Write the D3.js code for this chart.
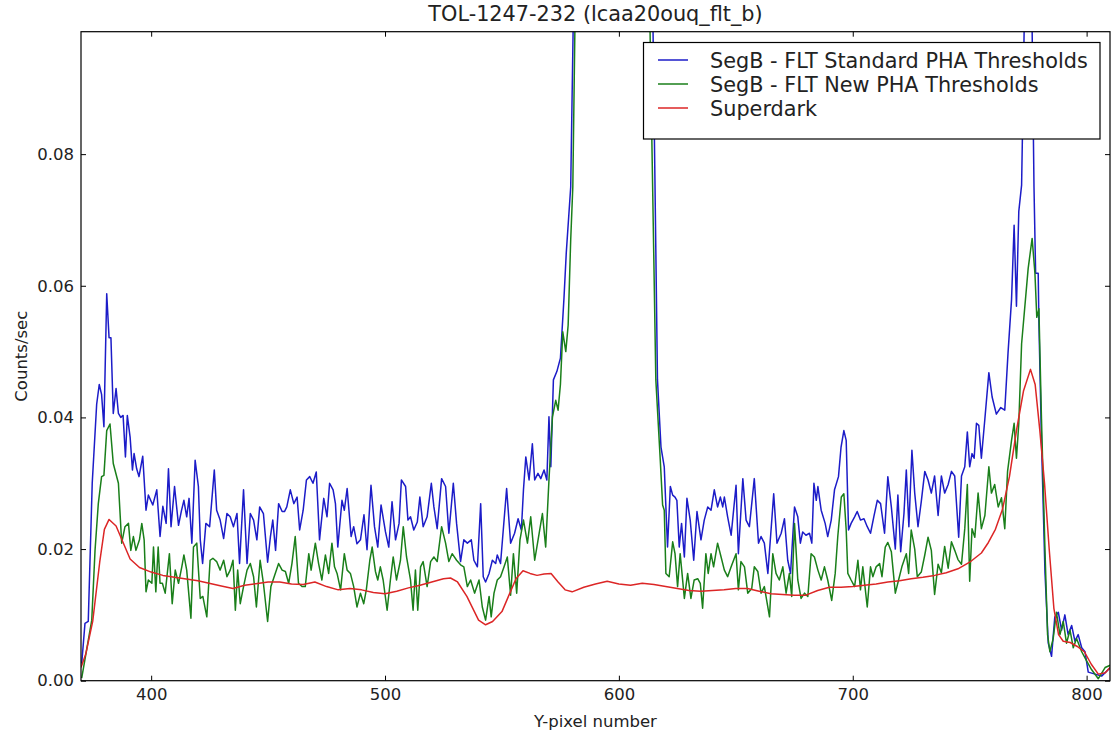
<!DOCTYPE html>
<html><head><meta charset="utf-8">
<script src="https://cdn.jsdelivr.net/npm/d3@7"></script>
<style>html,body{margin:0;padding:0;background:#fff;} svg{display:block;}</style>
</head><body>
<svg id="chart" width="1111" height="736"></svg>
<script>
const title = "TOL-1247-232 (lcaa20ouq_flt_b)";
const xLabel = "Y-pixel number";
const yLabel = "Counts/sec";
const seriesNames = ["SegB - FLT Standard PHA Thresholds", "SegB - FLT New PHA Thresholds", "Superdark"];
const xTicks = [400, 500, 600, 700, 800];
const yTicks = [0.00, 0.02, 0.04, 0.06, 0.08];
const xDomain = [370, 810];
const yDomain = [0, 0.0986];

const blueX = [370.3,371.7,373.1,374.8,376.7,377.8,378.8,379.8,381,382,382.8,383.8,385,386,387,388,389,389.8,391,392,392.7,393.8,394.8,396.4,397.8,398.8,400.7,402.4,403.8,405,406.4,407.4,408.5,410,411.7,413,414,415.2,416.2,417.4,418.8,420.2,421,422,423.4,425,426,427,428,429.5,431,432.4,433.8,435.2,436.7,437.8,439.5,441,442.4,443.8,445.2,446.4,448,449.8,451,452,453.2,454.5,456,457,458,459.5,461,462.4,463.5,465,466.4,467.8,469.2,470.6,472,473.8,475.2,476.3,477.8,478.8,479.8,481.6,482.6,483.8,485.5,486.6,488,489.5,491,492.3,494,495.5,496.9,498.3,500.2,501.6,503,504.5,506,507,508.8,509.8,510.9,512.3,513.8,514.9,516.3,518,519.8,520.9,522.3,524.2,525.9,527.3,529.2,530.6,532.3,533.7,535.2,536.9,538,539.5,540.9,542,543,544.5,545.9,547.3,548,549.4,552,553.7,555.4,556.9,558.3,559.2,560.2,561.6,563,564,565.4,566.6,568,569.2,570.1,570.9,572,573.5,575,576.5,577.5,579.4,580.7,583,590,600,608,612,614.2,616.5,618,619.4,620.8,622,623,624,624.8,625.8,626.8,628,629.1,630.5,632,633.4,635.1,636.5,638,639.4,640.8,642.2,643.4,644.4,645.1,646.5,648,650.1,651.1,653,654.4,655.8,657.9,659.7,660.8,662.2,663.7,666.2,667.6,669.4,670.8,672.2,673.4,675.1,676.5,677.6,678.6,680,681.5,682.5,683.4,684.4,685.1,686.5,688.2,689.3,690.8,692.2,693.9,695,696.2,697.2,698.2,699.3,700.8,701.9,703.3,704.8,706.2,707.6,709,710.5,711.9,713.6,715,716.5,718.2,719.3,720.5,721.9,722.9,724,725.3,726.5,727.9,729.3,730.8,732.2,733.6,735,736.5,737.9,739.3,740.8,742.2,743.6,745.3,746.5,747.9,749,750,751,751.9,752.9,753.9,755,756.5,758.2,759.6,761.4,763.3,765,766.4,767.9,769,770,771,772.2,772.9,774,776,777.5,778.2,779.3,779.6,780.7,782.2,783.6,785,786.4,787.9,789.3,790.7,792.1,793.6,795,796.4,797.9,799.3,800.7,803.6,806.4,809.3,810.5];
const blueY = [0.0026,0.0087,0.009,0.030,0.042,0.045,0.0435,0.0386,0.0588,0.0521,0.0521,0.0406,0.0444,0.0406,0.040,0.0403,0.034,0.0403,0.037,0.032,0.0345,0.0322,0.031,0.0341,0.0259,0.0282,0.0267,0.029,0.0219,0.0265,0.0239,0.0322,0.0234,0.0295,0.0236,0.0259,0.0274,0.0249,0.0277,0.0209,0.0335,0.0295,0.0214,0.0178,0.0239,0.0234,0.0277,0.032,0.0259,0.0244,0.0216,0.0254,0.0249,0.0234,0.0254,0.0178,0.029,0.0178,0.0254,0.0244,0.0214,0.0264,0.0254,0.018,0.0219,0.0244,0.0198,0.0269,0.0257,0.0257,0.0264,0.029,0.0269,0.0279,0.0229,0.0259,0.0305,0.031,0.03,0.0317,0.0214,0.0277,0.0249,0.03,0.029,0.0269,0.0203,0.0274,0.0259,0.0292,0.0219,0.0234,0.0208,0.0214,0.0252,0.0199,0.0297,0.0234,0.0203,0.0267,0.0226,0.0203,0.0272,0.0214,0.0239,0.0305,0.0295,0.0244,0.0249,0.0229,0.0241,0.0279,0.0234,0.0249,0.03,0.0264,0.0231,0.0307,0.0295,0.0224,0.03,0.0239,0.0181,0.0214,0.0209,0.0214,0.0183,0.0173,0.0269,0.0158,0.015,0.0163,0.0183,0.0178,0.0191,0.0178,0.0292,0.0209,0.0224,0.0246,0.0229,0.029,0.034,0.0305,0.036,0.0305,0.0315,0.0307,0.032,0.0305,0.0401,0.0325,0.0457,0.047,0.049,0.058,0.065,0.075,0.105,0.2,0.4,0.5,0.35,0.2,0.11,0.0457,0.0355,0.0325,0.0203,0.0295,0.0282,0.0279,0.0274,0.0203,0.0239,0.0188,0.0277,0.0244,0.0183,0.0257,0.0214,0.0244,0.0264,0.0259,0.029,0.0264,0.0279,0.0264,0.0279,0.0249,0.0221,0.0297,0.0193,0.0307,0.0244,0.0234,0.0307,0.0209,0.0219,0.0209,0.0163,0.0284,0.0209,0.0224,0.0246,0.0183,0.0163,0.0264,0.0249,0.0209,0.0226,0.0221,0.0224,0.0209,0.03,0.0274,0.0295,0.0259,0.0239,0.0219,0.0244,0.029,0.031,0.0355,0.038,0.0365,0.0229,0.0239,0.0249,0.0257,0.0244,0.0246,0.0234,0.0224,0.0249,0.0274,0.0269,0.0224,0.0310,0.0264,0.0200,0.0282,0.0196,0.0254,0.0320,0.0234,0.035,0.0285,0.0234,0.0272,0.0318,0.0305,0.0285,0.0311,0.0251,0.0311,0.0285,0.0298,0.0318,0.0311,0.0218,0.0311,0.0325,0.0378,0.0325,0.0345,0.0338,0.0391,0.0388,0.0338,0.0398,0.0468,0.0431,0.0405,0.0415,0.0411,0.0498,0.0579,0.0692,0.0569,0.0713,0.0753,0.09,0.115,0.12,0.075,0.0619,0.0619,0.0545,0.0365,0.0164,0.0057,0.0037,0.0097,0.0104,0.0077,0.01,0.007,0.0084,0.006,0.007,0.005,0.0044,0.0013,0.001,0.0007,0.0017,0.002];

const greenX = [370.3,372.4,374.6,376,377.4,378.8,379.8,381,382.4,383.8,386,387.4,388.8,390.3,391.3,392.4,393.5,395,396,397,397.8,398.8,400.3,401,402,403,403.8,404.8,406,407.8,409,410.3,411.7,413.1,414,415.2,417,418.1,419.5,421,422.1,423.8,425.2,426.4,428,429.5,431,432.4,433.8,435,436,437,438.1,439.5,441,442.4,443.8,445,446.6,448,449.8,451.2,452.6,454.5,456,457.4,458.8,460.2,461.6,463,464.5,465.9,467.4,468.4,470.2,471.6,473,474.5,475.9,477.3,478.4,479.5,481,482.6,483.8,485.2,486.6,488,489.5,490.9,492,493.5,494.5,495.9,496.9,498,499.2,500.9,502.3,503.5,504.9,506.6,507.8,509.2,510.9,512,513,514,515.2,516.3,518,519.5,520.9,522.3,524.2,525.9,527.3,528.7,530.6,532.3,533.7,535.2,536.6,538.3,540.2,541.6,543,544.5,545.4,546.6,548,549.4,550.9,552.3,553.7,554.9,556.3,557.7,559.2,560.9,562.3,564,565.9,567.3,568.7,570.1,571.6,573,574,575,576,577.3,578.3,579.4,580.3,581.6,585,595,605,610,612.8,615.8,617.7,618.7,619.4,620.1,621.5,623,624,625.1,626.2,628,629.4,630.8,632.2,633.7,634.8,635.8,637.2,638.2,639.4,640.5,642.2,643.7,645.1,646.5,648,650.1,651.1,652.2,653.7,655.1,656.8,657.9,659.4,660.8,662.2,664.4,665.8,667.2,668.6,670.1,671.5,672.9,673.9,675.1,676.5,677.9,679.4,680.8,682.2,683.6,685.1,686.5,687.9,689.3,691,692.5,693.6,695.1,696.2,697.2,697.9,699.3,700.8,702.2,703.3,704.3,706.2,707.6,708.6,710,711.5,712.5,713.9,715,716.5,718.2,719.6,721,722.9,723.9,725,726.5,727.6,729.3,730.8,732.2,733.6,735,736.5,737.9,739.3,740.8,742.2,743.6,745,746.5,747.9,749,750,751,752.2,753.6,755,756.5,758.2,759.3,760.7,762.2,763.6,765,766.2,767.9,769,770,771,772.2,775,776.7,777.9,778.7,779.6,780.7,782.2,783.3,784.3,785.7,787.1,788.6,790,791.4,792.9,794.3,795.7,797.9,800,802.1,805,807.9,810.5];
const greenY = [0.0004,0.0047,0.0092,0.0198,0.0269,0.031,0.0312,0.038,0.039,0.033,0.03,0.0209,0.0234,0.0239,0.0198,0.0219,0.0198,0.0214,0.0239,0.0214,0.0135,0.0153,0.0148,0.0203,0.0135,0.0203,0.0148,0.0148,0.0133,0.0193,0.0117,0.0168,0.0148,0.0173,0.0191,0.0168,0.0095,0.0203,0.0209,0.0125,0.0128,0.0097,0.0183,0.0186,0.0181,0.0168,0.0183,0.0158,0.0168,0.0183,0.0107,0.0168,0.0117,0.0143,0.0168,0.0178,0.0158,0.0112,0.0183,0.0148,0.009,0.0143,0.0158,0.0178,0.0168,0.0166,0.0148,0.0178,0.0219,0.0148,0.0143,0.0143,0.0193,0.0168,0.0209,0.0178,0.0153,0.0191,0.0163,0.0209,0.0173,0.0163,0.0138,0.0193,0.0168,0.0163,0.0143,0.0112,0.0133,0.0117,0.0138,0.0183,0.0203,0.0166,0.0153,0.0173,0.0153,0.0107,0.0153,0.0188,0.0153,0.0183,0.0234,0.0188,0.0153,0.0107,0.0168,0.0107,0.0173,0.0181,0.0143,0.0181,0.0188,0.0181,0.0234,0.0209,0.0181,0.0193,0.0183,0.0176,0.0173,0.0143,0.0153,0.0133,0.0153,0.0112,0.0092,0.0128,0.0097,0.0133,0.0153,0.0158,0.0173,0.0188,0.013,0.0193,0.0133,0.0214,0.0244,0.0209,0.0249,0.0183,0.0224,0.0254,0.0203,0.0305,0.0401,0.0426,0.0411,0.045,0.053,0.05,0.054,0.067,0.075,0.11,0.25,0.45,0.4,0.2,0.11,0.0457,0.0335,0.0267,0.0259,0.0163,0.0158,0.0211,0.0193,0.0143,0.0193,0.0125,0.0163,0.0125,0.0153,0.0155,0.0148,0.011,0.0193,0.0163,0.0193,0.0173,0.0209,0.0188,0.0168,0.0158,0.0173,0.0193,0.0138,0.0181,0.0173,0.0133,0.014,0.0173,0.0166,0.0133,0.0143,0.0097,0.0193,0.0163,0.0153,0.0173,0.0133,0.0163,0.0128,0.0239,0.0153,0.0125,0.0133,0.0128,0.0193,0.0188,0.0168,0.0153,0.0173,0.0153,0.0122,0.0163,0.0219,0.0279,0.0284,0.0229,0.0163,0.0153,0.0143,0.0183,0.0138,0.0173,0.0112,0.0173,0.0158,0.0173,0.0178,0.0158,0.0203,0.0210,0.0196,0.0133,0.0153,0.0173,0.0193,0.0163,0.0229,0.0200,0.0158,0.0165,0.0191,0.0218,0.0198,0.0131,0.0177,0.0164,0.0204,0.0171,0.0211,0.0198,0.0184,0.0177,0.0231,0.0298,0.0151,0.0231,0.0218,0.0285,0.0231,0.0251,0.0325,0.0285,0.0298,0.0264,0.0278,0.0231,0.0318,0.0365,0.0391,0.0338,0.0391,0.0512,0.0626,0.0672,0.0619,0.0552,0.0565,0.0398,0.0198,0.007,0.0044,0.0064,0.0104,0.007,0.009,0.0057,0.0077,0.005,0.0064,0.0044,0.003,0.0017,0.0003,0.002,0.0024];

const darkX = [370,372,375,378,380,382,385,388,391,395,400,405,410,420,430,435,440,450,455,460,465,470,475,480,485,490,495,500,505,510,515,520,525,528,531,535,540,543,546,550,553,556,559,562,565,568,571,574,577,580,585,590,595,600,605,610,615,620,625,630,635,640,645,650,655,660,665,670,675,680,685,690,695,700,705,710,715,720,725,730,735,740,745,750,755,758,761,764,767,770,773,776,778,780,782,784,786,788,790,793,796,799,802,805,808,810];
const darkY = [0.002,0.004,0.009,0.018,0.023,0.0245,0.0235,0.021,0.0185,0.0172,0.0165,0.016,0.0157,0.0152,0.0144,0.014,0.0145,0.015,0.015,0.0147,0.0146,0.015,0.0143,0.0138,0.014,0.0138,0.0134,0.0132,0.0136,0.0141,0.0145,0.015,0.0155,0.0156,0.015,0.0128,0.0092,0.0085,0.009,0.0105,0.013,0.0155,0.0167,0.0163,0.016,0.0162,0.0163,0.015,0.0138,0.0135,0.0142,0.0147,0.0151,0.0147,0.0145,0.0148,0.0146,0.0143,0.014,0.0137,0.0136,0.0137,0.0138,0.014,0.014,0.0136,0.0132,0.0131,0.013,0.013,0.0137,0.0142,0.0142,0.0143,0.0145,0.0147,0.015,0.0152,0.0155,0.0157,0.016,0.0164,0.017,0.018,0.0194,0.021,0.023,0.026,0.031,0.038,0.044,0.0473,0.045,0.038,0.030,0.020,0.011,0.007,0.006,0.0058,0.0052,0.0044,0.0025,0.001,0.0012,0.002];

const colors = ["#1c1cc8", "#1a7f1a", "#dc2626"];

const font = "'DejaVu Sans', sans-serif";
const svg = d3.select("#chart");
const W = 1111, H = 736;
const m = {left: 81, top: 31.7, right: 1110, bottom: 680.7};

const x = d3.scaleLinear().domain(xDomain).range([m.left, m.right]);
const y = d3.scaleLinear().domain(yDomain).range([m.bottom, m.top]);

svg.append("defs").append("clipPath").attr("id", "clip")
  .append("rect").attr("x", m.left).attr("y", m.top)
  .attr("width", m.right - m.left).attr("height", m.bottom - m.top);

const series = [
  {name: seriesNames[0], xs: blueX, ys: blueY, color: colors[0]},
  {name: seriesNames[1], xs: greenX, ys: greenY, color: colors[1]},
  {name: seriesNames[2], xs: darkX, ys: darkY, color: colors[2]}
];

const line = d3.line().x(d => x(d[0])).y(d => y(d[1]));
const plot = svg.append("g").attr("clip-path", "url(#clip)");
series.forEach(s => {
  const pts = s.xs.map((v, i) => [v, s.ys[i]]);
  plot.append("path").datum(pts).attr("d", line)
    .attr("fill", "none").attr("stroke", s.color).attr("stroke-width", 1.5)
    .attr("stroke-linejoin", "round");
});

// axes
const fmtY = d3.format(".2f");
const axB = svg.append("g").attr("transform", `translate(0,${m.bottom})`)
  .call(d3.axisBottom(x).tickValues(xTicks).tickSize(-5).tickPadding(8).tickFormat(d3.format("d")));
const axT = svg.append("g").attr("transform", `translate(0,${m.top})`)
  .call(d3.axisTop(x).tickValues(xTicks).tickSize(-5).tickFormat(""));
const axL = svg.append("g").attr("transform", `translate(${m.left},0)`)
  .call(d3.axisLeft(y).tickValues(yTicks).tickSize(-5).tickPadding(7).tickFormat(fmtY));
const axR = svg.append("g").attr("transform", `translate(${m.right},0)`)
  .call(d3.axisRight(y).tickValues(yTicks).tickSize(-5).tickFormat(""));
[axB, axT, axL, axR].forEach(a => {
  a.select(".domain").remove();
  a.selectAll(".tick line").attr("stroke", "#000").attr("stroke-width", 1);
  a.selectAll(".tick text").attr("font-family", font).attr("font-size", 16.5).attr("fill", "#222");
});

svg.append("rect").attr("x", m.left).attr("y", m.top)
  .attr("width", m.right - m.left).attr("height", m.bottom - m.top)
  .attr("fill", "none").attr("stroke", "#000").attr("stroke-width", 1.2);

// title & labels
svg.append("text").attr("x", (m.left + m.right) / 2).attr("y", 21)
  .attr("text-anchor", "middle").attr("font-family", font).attr("font-size", 20.8)
  .attr("fill", "#222").text(title);
svg.append("text").attr("x", (m.left + m.right) / 2).attr("y", 727)
  .attr("text-anchor", "middle").attr("font-family", font).attr("font-size", 16.5)
  .attr("fill", "#222").text(xLabel);
svg.append("text").attr("transform", `translate(27,${(m.top + m.bottom) / 2}) rotate(-90)`)
  .attr("text-anchor", "middle").attr("font-family", font).attr("font-size", 16.5)
  .attr("fill", "#222").text(yLabel);

// legend
const lg = svg.append("g");
lg.append("rect").attr("x", 643.5).attr("y", 42.5).attr("width", 456.5).attr("height", 96.5)
  .attr("fill", "#fff").attr("stroke", "#000").attr("stroke-width", 1.2);
series.forEach((s, i) => {
  const ly = 60 + i * 24;
  lg.append("line").attr("x1", 658).attr("x2", 688).attr("y1", ly).attr("y2", ly)
    .attr("stroke", s.color).attr("stroke-width", 1.5);
  lg.append("text").attr("x", 710).attr("y", ly + 7.5)
    .attr("font-family", font).attr("font-size", 20.8).attr("fill", "#222").text(s.name);
});
</script>
</body></html>
